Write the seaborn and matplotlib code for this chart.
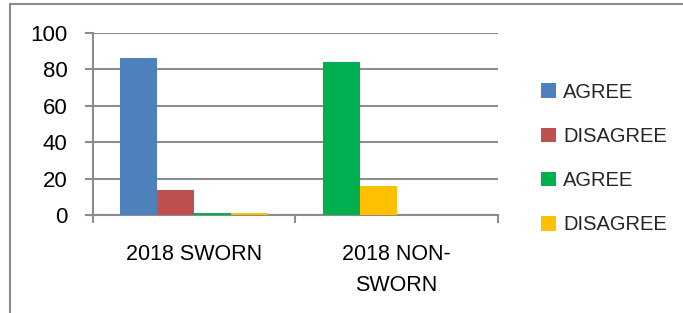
import matplotlib
matplotlib.use("Agg")
import matplotlib.pyplot as plt
import seaborn as sns
import pandas as pd
from matplotlib.lines import Line2D
from matplotlib.patches import Patch

# ---- data ----
categories = ["2018 SWORN", "2018 NON-\nSWORN"]
series_labels = ["AGREE", "DISAGREE", "AGREE", "DISAGREE"]
series1 = [86, 84]   # first slot (blue, NON-SWORN point shown green)
series2 = [14, 16]   # second slot (red, NON-SWORN point shown yellow)
series3 = [1, 0]
series4 = [1, 0]
yticks = [0, 20, 40, 60, 80, 100]

colors = ["#4F81BD", "#C0504D", "#00B050", "#FFC000"]
grid_col = "#8C8C8C"

keys = ["s1", "s2", "s3", "s4"]
rows = []
for k, vals in zip(keys, [series1, series2, series3, series4]):
    for c, v in zip(categories, vals):
        rows.append({"cat": c, "series": k, "value": v})
df = pd.DataFrame(rows)

sns.set_theme(style="white")
plt.rcParams["font.family"] = ["Liberation Sans", "DejaVu Sans"]

W, H = 683, 313
fig = plt.figure(figsize=(W / 100, H / 100), dpi=100)
ax = fig.add_axes([92.5 / W, (H - 215) / H, (498 - 92.5) / W, (215 - 33) / H])

sns.barplot(data=df, x="cat", y="value", hue="series", hue_order=keys,
            order=categories, palette=colors, width=0.731, gap=0,
            saturation=1, ax=ax, legend=False, errorbar=None)

# point-level colours for the NON-SWORN group
ax.containers[0][1].set_facecolor(colors[2])
ax.containers[1][1].set_facecolor(colors[3])
for cont in ax.containers:
    for p in cont:
        p.set_edgecolor("none")
        p.set_linewidth(0)
        p.set_zorder(3)

ax.set_ylim(0, 100)
ax.set_xlim(-0.5, 1.5)
ax.set_yticks(yticks)
ax.set_xlabel("")
ax.set_ylabel("")
ax.yaxis.grid(True, color=grid_col, linewidth=1.5, zorder=1)
ax.set_axisbelow(True)
for s in ["top", "right"]:
    ax.spines[s].set_visible(False)
for s in ["left", "bottom"]:
    ax.spines[s].set_visible(True)
    ax.spines[s].set_color(grid_col)
    ax.spines[s].set_linewidth(1.5)
    ax.spines[s].set_zorder(2)

ax.tick_params(axis="y", which="major", left=True, length=6, width=1.5,
               color=grid_col, pad=12, labelsize=16, labelcolor="black")
ax.set_xticks([0, 1])
ax.set_xticklabels(categories, linespacing=1.62)
ax.set_xticks([-0.5, 0.5, 1.5], minor=True)
ax.tick_params(axis="x", which="major", length=0, pad=21, labelsize=15.5,
               labelcolor="black")
ax.tick_params(axis="x", which="minor", bottom=True, length=6, width=1.5,
               color=grid_col)

handles = [Patch(facecolor=c, edgecolor="none") for c in colors]
fig.legend(handles, series_labels, loc="center left",
           bbox_to_anchor=(541 / W, 1 - 158.5 / H), frameon=False,
           fontsize=14.5, handlelength=0.75, handleheight=0.75,
           handletextpad=0.35, labelspacing=1.25, borderpad=0,
           borderaxespad=0)

# outer chart frame (top and left edges visible)
fig.add_artist(Line2D([9.5 / W, 1], [1 - 3.5 / H, 1 - 3.5 / H],
                      color="#8C8C8C", linewidth=1.5,
                      transform=fig.transFigure))
fig.add_artist(Line2D([9.5 / W, 9.5 / W], [0, 1 - 3.5 / H],
                      color="#8C8C8C", linewidth=1.5,
                      transform=fig.transFigure))

fig.savefig("out.png", dpi=100)
